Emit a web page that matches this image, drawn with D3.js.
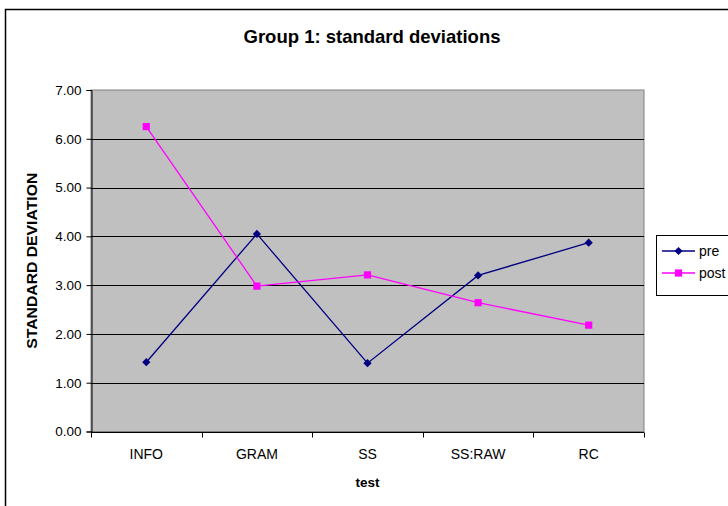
<!DOCTYPE html>
<html>
<head>
<meta charset="utf-8">
<script src="https://cdn.jsdelivr.net/npm/d3@7"></script>
<style>
  html, body { margin: 0; padding: 0; background: #fff; }
  svg { display: block; font-family: "Liberation Sans", Arial, sans-serif; }
</style>
</head>
<body>
<svg id="chart" width="728" height="506"></svg>
<script>
// Test categories and standard deviations per test, before and after
const categories = ["INFO", "GRAM", "SS", "SS:RAW", "RC"];
const preValues  = [1.42, 4.05, 1.40, 3.20, 3.87];
const postValues = [6.25, 2.98, 3.21, 2.64, 2.18];
const yTicks = [0, 1, 2, 3, 4, 5, 6, 7];
const seriesNames = ["pre", "post"];

const svg = d3.select("#chart");
const plot = { left: 91, right: 644, top: 90, bottom: 431.5 };

// Outer chart frame
svg.append("rect")
  .attr("x", 5.5).attr("y", 9.5)
  .attr("width", 760).attr("height", 510)
  .attr("fill", "#fff").attr("stroke", "#000").attr("stroke-width", 1.5);

const x = d3.scaleBand().domain(categories).range([plot.left, plot.right]);
const y = d3.scaleLinear().domain([0, 7]).range([plot.bottom, plot.top]);

// Plot area background
svg.append("rect")
  .attr("x", plot.left).attr("y", plot.top)
  .attr("width", plot.right - plot.left).attr("height", plot.bottom - plot.top)
  .attr("fill", "#c0c0c0").attr("stroke", "#808080").attr("stroke-width", 1);

// Horizontal gridlines
svg.append("g").selectAll("line")
  .data(yTicks.filter(d => d > 0 && d < 7))
  .join("line")
  .attr("x1", plot.left).attr("x2", plot.right)
  .attr("y1", d => Math.round(y(d)) + 0.5).attr("y2", d => Math.round(y(d)) + 0.5)
  .attr("stroke", "#000").attr("stroke-width", 1);

// Y axis
const yAxis = svg.append("g")
  .attr("transform", `translate(${plot.left + 0.5},0)`)
  .call(d3.axisLeft(y).tickValues(yTicks).tickFormat(d3.format(".2f")).tickSizeOuter(0).tickSize(5).tickPadding(5));
yAxis.select(".domain").attr("stroke", "#000");
yAxis.selectAll(".tick line").attr("stroke", "#000");
yAxis.selectAll("text").attr("font-size", 13.5).attr("fill", "#000")
  .attr("font-family", "Liberation Sans, Arial, sans-serif");

// X axis with ticks at category boundaries
const xAxis = svg.append("g")
  .attr("transform", `translate(0,${Math.round(plot.bottom) + 0.5})`);
xAxis.append("line")
  .attr("x1", plot.left).attr("x2", plot.right)
  .attr("stroke", "#000");
const bounds = categories.map(c => x(c)).concat([x.range()[1]]);
xAxis.selectAll("line.tk").data(bounds).join("line").attr("class", "tk")
  .attr("x1", d => Math.round(d) + 0.5).attr("x2", d => Math.round(d) + 0.5)
  .attr("y1", 0).attr("y2", 5).attr("stroke", "#000");
xAxis.selectAll("text").data(categories).join("text")
  .attr("x", d => x(d) + x.bandwidth() / 2)
  .attr("y", 26)
  .attr("text-anchor", "middle")
  .attr("font-size", 14)
  .text(d => d);

// Titles
svg.append("text")
  .attr("x", 372).attr("y", 43)
  .attr("text-anchor", "middle")
  .attr("font-size", 18.5).attr("font-weight", "bold")
  .text("Group 1: standard deviations");
svg.append("text")
  .attr("x", (plot.left + plot.right) / 2).attr("y", 487)
  .attr("text-anchor", "middle")
  .attr("font-size", 13.5).attr("font-weight", "bold")
  .text("test");
svg.append("text")
  .attr("transform", `translate(37,${(plot.top + plot.bottom) / 2}) rotate(-90)`)
  .attr("text-anchor", "middle")
  .attr("font-size", 14.5).attr("font-weight", "bold")
  .attr("textLength", 176).attr("lengthAdjust", "spacingAndGlyphs")
  .text("STANDARD DEVIATION");

// Series: pre uses a square diamond marker, post a square
const series = [
  { name: seriesNames[0], values: preValues, color: "#000080", shape: d3.symbolSquare, size: 34, rot: 45 },
  { name: seriesNames[1], values: postValues, color: "#ff00ff", shape: d3.symbolSquare, size: 52, rot: 0 }
];
const cx = c => x(c) + x.bandwidth() / 2;
const line = d3.line().x((d, i) => cx(categories[i])).y(d => y(d));

series.forEach(s => {
  svg.append("path")
    .datum(s.values)
    .attr("d", line)
    .attr("fill", "none")
    .attr("stroke", s.color)
    .attr("stroke-width", 1.3);
  svg.append("g").selectAll("path")
    .data(s.values)
    .join("path")
    .attr("transform", (d, i) => `translate(${cx(categories[i])},${y(d)}) rotate(${s.rot})`)
    .attr("d", d3.symbol().type(s.shape).size(s.size))
    .attr("fill", s.color);
});

// Legend
const legend = svg.append("g");
legend.append("rect")
  .attr("x", 656.5).attr("y", 235.5)
  .attr("width", 100).attr("height", 60)
  .attr("fill", "#fff").attr("stroke", "#000");
series.forEach((s, i) => {
  const ly = 251 + i * 22;
  legend.append("line")
    .attr("x1", 662).attr("x2", 695).attr("y1", ly).attr("y2", ly)
    .attr("stroke", s.color).attr("stroke-width", 1.3);
  legend.append("path")
    .attr("transform", `translate(678.5,${ly}) rotate(${s.rot})`)
    .attr("d", d3.symbol().type(s.shape).size(s.size))
    .attr("fill", s.color);
  legend.append("text")
    .attr("x", 699).attr("y", ly + 5)
    .attr("font-size", 14)
    .text(s.name);
});
</script>
</body>
</html>
